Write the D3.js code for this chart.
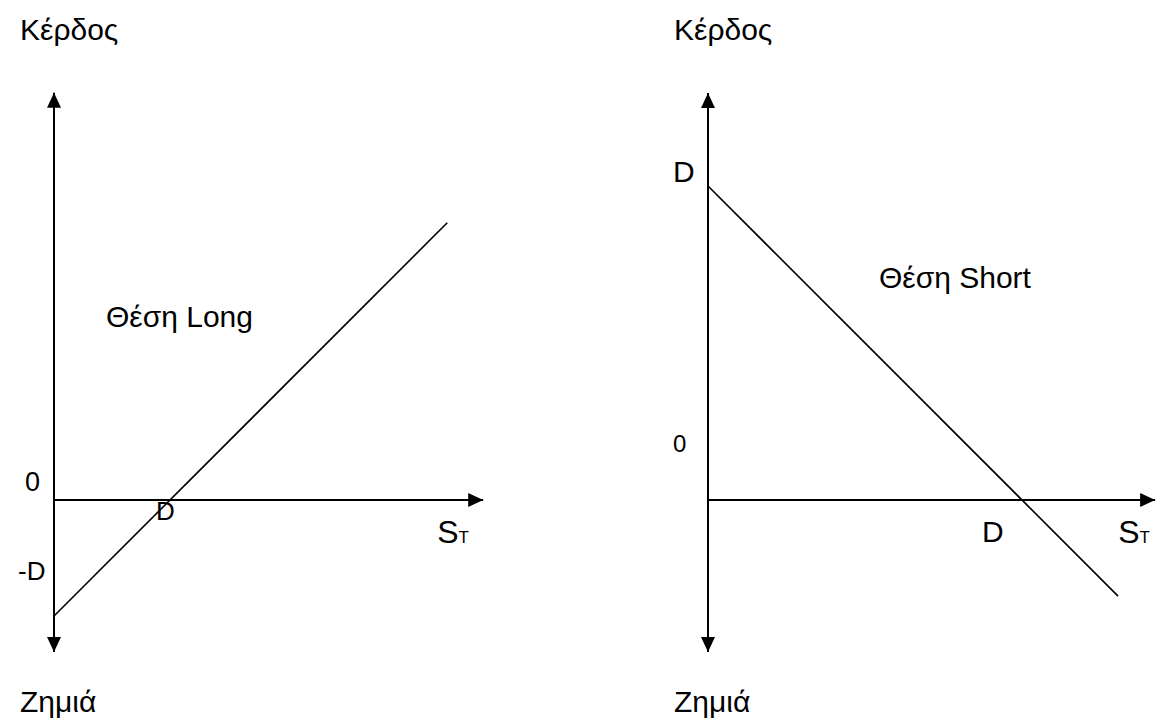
<!DOCTYPE html>
<html>
<head>
<meta charset="utf-8">
<script src="https://cdn.jsdelivr.net/npm/d3@7"></script>
<style>
    body { margin: 0; background: #fff; }
    svg text { font-family: "Liberation Sans", Arial, sans-serif; fill: #000; }
    .axis-line { stroke: #000; stroke-width: 2; fill: none; }
    .payoff { stroke: #000; stroke-width: 1.6; fill: none; }
</style>
</head>
<body>
<svg id="chart" width="1160" height="728"></svg>
<script>
// payoff lines, in units of D (S_T on x, profit on y)
const longPayoff = [{ s: 0, p: -1 }, { s: 3.39, p: 2.39 }];
const shortPayoff = [{ s: 0, p: 1 }, { s: 1.306, p: -0.306 }];
const profitLabel = "Κέρδος";
const lossLabel = "Ζημιά";
const positionLabels = ["Θέση Long", "Θέση Short"];

const svg = d3.select("#chart");

svg.append("defs").append("marker")
    .attr("id", "arrow")
    .attr("markerUnits", "userSpaceOnUse")
    .attr("markerWidth", 16)
    .attr("markerHeight", 14)
    .attr("refX", 15)
    .attr("refY", 7)
    .attr("orient", "auto-start-reverse")
    .append("path")
    .attr("d", "M0,0 L15,7 L0,14 Z")
    .attr("fill", "#000");

// one panel per position
const panels = [
    {
        data: longPayoff, name: positionLabels[0],
        x: d3.scaleLinear().domain([0, 1]).range([54, 170]),
        y: d3.scaleLinear().domain([0, 1]).range([500, 384]),
        xMax: 3.7, yMax: 3.51, yMin: -1.31,
        titleX: 20, nameX: 106, nameY: 327
    },
    {
        data: shortPayoff, name: positionLabels[1],
        x: d3.scaleLinear().domain([0, 1]).range([708, 1022]),
        y: d3.scaleLinear().domain([0, 1]).range([500, 186]),
        xMax: 1.424, yMax: 1.296, yMin: -0.484,
        titleX: 674, nameX: 879, nameY: 288
    }
];

panels.forEach((p, i) => {
    let g = svg.append("g").attr("class", "panel");

    // vertical axis, arrows both ends
    g.append("line")
        .attr("class", "axis-line")
        .attr("x1", p.x(0)).attr("x2", p.x(0))
        .attr("y1", p.y(p.yMin)).attr("y2", p.y(p.yMax))
        .attr("marker-start", "url(#arrow)")
        .attr("marker-end", "url(#arrow)");

    // horizontal axis
    g.append("line")
        .attr("class", "axis-line")
        .attr("x1", p.x(0)).attr("x2", p.x(p.xMax))
        .attr("y1", p.y(0)).attr("y2", p.y(0))
        .attr("marker-end", "url(#arrow)");

    let line = d3.line().x(d => p.x(d.s)).y(d => p.y(d.p));
    g.append("path")
        .datum(p.data)
        .attr("class", "payoff")
        .attr("d", line);

    g.append("text")
        .attr("x", p.titleX).attr("y", 40)
        .attr("font-size", 30)
        .text(profitLabel);
    g.append("text")
        .attr("x", p.titleX).attr("y", 712)
        .attr("font-size", 30)
        .text(lossLabel);
    g.append("text")
        .attr("x", p.nameX).attr("y", p.nameY)
        .attr("font-size", 30)
        .text(p.name);

    let st = g.append("text")
        .attr("x", p.x(p.xMax) - 46 + (i === 0 ? 0 : 9)).attr("y", 543)
        .attr("font-size", 32);
    st.append("tspan").text("S");
    st.append("tspan").attr("font-size", 17).text("T");
});

// tick-like labels
let L = panels[0], R = panels[1];
svg.append("text").attr("x", L.x(0) - 29).attr("y", 491).attr("font-size", 27).text("0");
svg.append("text").attr("x", L.x(0) - 36).attr("y", 580).attr("font-size", 26).text("-D");
svg.append("text").attr("x", L.x(1) - 14).attr("y", 520).attr("font-size", 26).text("D");

svg.append("text").attr("x", R.x(0) - 35).attr("y", 452).attr("font-size", 24).text("0");
svg.append("text").attr("x", R.x(0) - 35).attr("y", 182).attr("font-size", 30).text("D");
svg.append("text").attr("x", R.x(1) - 40).attr("y", 542).attr("font-size", 30).text("D");
</script>
</body>
</html>
